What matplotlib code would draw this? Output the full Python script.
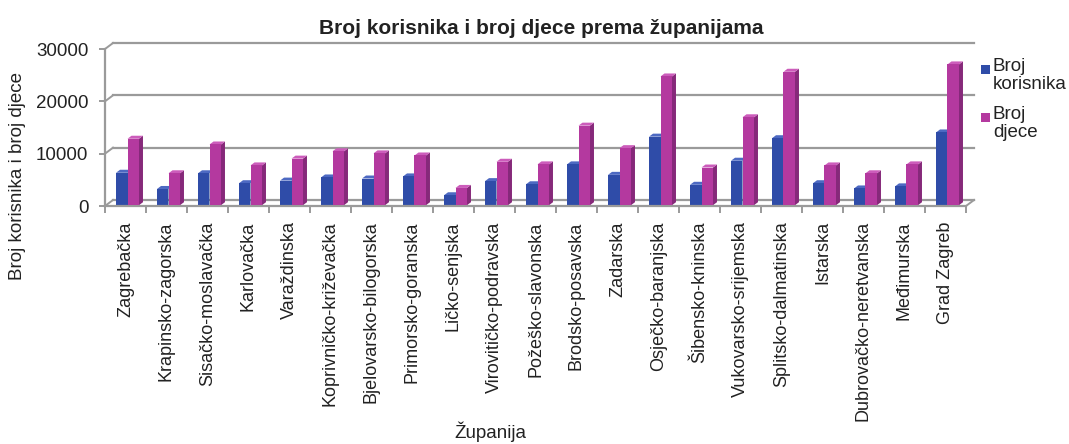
import matplotlib
matplotlib.use('Agg')
import matplotlib.pyplot as plt
from matplotlib.patches import Polygon, Rectangle
import numpy as np

plt.rcParams['font.family'] = ['Liberation Sans', 'DejaVu Sans']

# Broj korisnika i broj djece po županijama
zupanije = ['Zagrebačka', 'Krapinsko-zagorska', 'Sisačko-moslavačka', 'Karlovačka',
            'Varaždinska', 'Koprivničko-križevačka', 'Bjelovarsko-bilogorska',
            'Primorsko-goranska', 'Ličko-senjska', 'Virovitičko-podravska',
            'Požeško-slavonska', 'Brodsko-posavska', 'Zadarska', 'Osječko-baranjska',
            'Šibensko-kninska', 'Vukovarsko-srijemska', 'Splitsko-dalmatinska',
            'Istarska', 'Dubrovačko-neretvanska', 'Međimurska', 'Grad Zagreb']
korisnici = [6200, 3100, 6100, 4200, 4700, 5300, 5100, 5500, 1900, 4600, 4000,
             7800, 5800, 13100, 3900, 8500, 12800, 4200, 3200, 3600, 13900]
djeca = [12700, 6100, 11600, 7600, 8900, 10300, 9900, 9500, 3300, 8300, 7800,
         15200, 10900, 24600, 7200, 16800, 25500, 7600, 6100, 7800, 26900]
serije = ['Broj\nkorisnika', 'Broj\ndjece']
y_ticks = [0, 10000, 20000, 30000]

W, H = 1069, 444
fig = plt.figure(figsize=(W / 100, H / 100), dpi=100)
ax_l, ax_b, ax_w, ax_h = 105, 238, 861, 157
ax = fig.add_axes([ax_l / W, ax_b / H, ax_w / W, ax_h / H])

n = len(zupanije)
x = np.arange(n)
ax.set_xlim(-0.5, n - 0.5)
ax.set_ylim(0, 30000)

# pixel -> data conversion for the fake 3D depth
px_x = n / ax_w
px_y = 30000 / ax_h
back_dx, back_dy = 8 * px_x, 6 * px_y      # back wall offset
side_dx, side_dy = 4 * px_x, 3 * px_y      # bar depth
shift_x, base_y = 2 * px_x, 0.8 * px_y     # bars sit in the middle of the floor

grid_c = '#9a9a9a'

# back wall grid lines and their joints with the left axis
x0, x1 = -0.5, n - 0.5
for v in y_ticks:
    ax.plot([x0 + back_dx, x1 + back_dx], [v + back_dy, v + back_dy],
            color=grid_c, lw=1.6, clip_on=False, zorder=1)
    ax.plot([x0, x0 + back_dx], [v, v + back_dy],
            color=grid_c, lw=1.4, clip_on=False, zorder=1)
# right edge of the floor
ax.plot([x1, x1 + back_dx], [0, back_dy], color=grid_c, lw=1.4, clip_on=False, zorder=1)

cols = [('#2f4ca8', '#213886', '#4d69c2'),
        ('#b4399f', '#86297a', '#cc5cbb')]
w = 0.28
offsets = [-w / 2, w / 2]


def draw_bar(xc, h, front, side, top, z):
    xl = xc - w / 2 + shift_x
    xr = xc + w / 2 + shift_x
    yb = base_y
    yt = base_y + h
    ax.add_patch(Polygon([(xr, yb), (xr + side_dx, yb + side_dy),
                          (xr + side_dx, yt + side_dy), (xr, yt)],
                         closed=True, fc=side, ec='none', zorder=z))
    ax.add_patch(Polygon([(xl, yt), (xr, yt), (xr + side_dx, yt + side_dy),
                          (xl + side_dx, yt + side_dy)],
                         closed=True, fc=top, ec='none', zorder=z))
    ax.bar(xc + shift_x, h, width=w, bottom=yb, color=front, lw=0, zorder=z + 0.5)


for i in range(n):
    for k, vals in enumerate([korisnici, djeca]):
        f, s, t = cols[k]
        draw_bar(x[i] + offsets[k], vals[i], f, s, t, 2 + k)

# axes: only the front left and bottom edges
for sp in ['top', 'right']:
    ax.spines[sp].set_visible(False)
for sp in ['left', 'bottom']:
    ax.spines[sp].set_color(grid_c)
    ax.spines[sp].set_linewidth(1.6)

ax.set_yticks(y_ticks)
ax.set_yticklabels([str(v) for v in y_ticks])
ax.tick_params(axis='y', length=4, width=1.4, color=grid_c, pad=8,
               labelsize=13.5, labelcolor='#222222')

ax.set_xticks(x)
ax.set_xticklabels(zupanije, rotation=90, va='top', ha='center')
ax.set_xticks(np.arange(n + 1) - 0.5, minor=True)
ax.tick_params(axis='x', which='major', length=0, pad=11,
               labelsize=13, labelcolor='#222222')
ax.tick_params(axis='x', which='minor', length=5, width=1.4, color=grid_c)
ax.patch.set_visible(False)

fig.text(541 / W, 1 - 28 / H, 'Broj korisnika i broj djece prema županijama',
         ha='center', va='center', fontsize=15, fontweight='bold', color='#222222')
fig.text(18 / W, 1 - 176 / H, 'Broj korisnika i broj djece', rotation=90,
         ha='center', va='center', fontsize=13.5, color='#222222')
fig.text(490 / W, 1 - 432 / H, 'Županija', ha='center', va='center',
         fontsize=13.5, color='#222222')

# legend
leg_y = [70, 118]
for k, lab in enumerate(serije):
    fig.patches.append(Rectangle((981 / W, 1 - (leg_y[k] + 4.5) / H), 9 / W, 9 / H,
                                 transform=fig.transFigure, fc=cols[k][0], ec='none'))
    fig.text(993 / W, 1 - (leg_y[k] - 12) / H, lab, ha='left', va='top',
             fontsize=13.5, linespacing=1.05, color='#222222')

fig.savefig('out.png', dpi=100)
